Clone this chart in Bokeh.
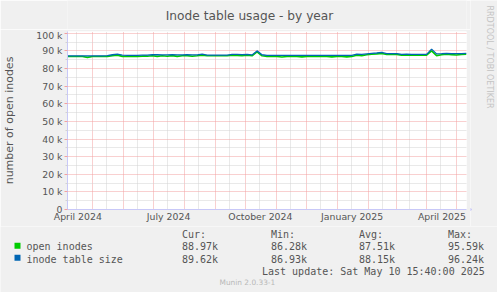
import math
import pandas as pd
from bokeh.plotting import figure
from bokeh.layouts import column, row
from bokeh.models import Label, FixedTicker, Range1d
from bokeh.embed import file_html
from bokeh.resources import INLINE

# ---------------- data ----------------
start = pd.Timestamp("2024-04-05 15:40")
end = pd.Timestamp("2025-05-10 15:40")
sample_dates = pd.date_range(start, end, freq="5D")  # one sample every 5 days

inode_table_size = [
    87.2, 87.2, 87.2, 87.2, 87.2, 87.2, 87.2, 87.2, 87.3, 87.8,
    88.2, 87.6, 87.4, 87.4, 87.4, 87.6, 87.6, 87.8, 87.8, 87.7,
    87.7, 87.8, 87.7, 87.7, 87.8, 87.7, 87.7, 88.2, 87.6, 87.6,
    87.6, 87.6, 87.6, 88.0, 88.0, 87.9, 88.0, 87.7, 90.0, 87.8,
    87.5, 87.4, 87.4, 87.4, 87.4, 87.4, 87.4, 87.4, 87.4, 87.4,
    87.4, 87.4, 87.4, 87.4, 87.4, 87.4, 87.4, 87.4, 88.2, 88.0,
    88.3, 88.6, 88.8, 89.1, 88.5, 88.4, 88.5, 88.0, 88.1, 88.0,
    88.0, 88.0, 88.0, 91.0, 88.3, 88.4, 88.6, 88.5, 88.4, 88.4,
    88.6,
]
open_inodes = [
    86.8, 86.8, 86.8, 86.8, 86.3, 86.8, 86.8, 86.8, 86.9, 87.3,
    87.6, 86.9, 86.8, 86.8, 86.8, 87.0, 87.0, 87.2, 86.9, 87.2,
    87.0, 87.3, 86.9, 87.2, 87.3, 87.0, 87.2, 87.6, 87.2, 87.2,
    87.2, 87.2, 87.2, 87.5, 87.4, 87.3, 87.5, 87.2, 89.5, 87.2,
    86.9, 86.8, 86.8, 86.5, 86.8, 86.8, 86.8, 86.6, 86.8, 86.8,
    86.8, 86.8, 86.8, 86.6, 86.8, 86.8, 86.6, 86.8, 87.5, 87.3,
    87.8, 88.1, 88.3, 88.6, 88.0, 88.0, 88.0, 87.6, 87.7, 87.6,
    87.5, 87.6, 87.6, 90.0, 87.3, 87.8, 88.1, 87.9, 87.7, 88.0,
    88.1,
]

y_ticks = [0, 10000, 20000, 30000, 40000, 50000, 60000, 70000, 80000, 90000, 100000]
y_tick_labels = ["0", "10 k", "20 k", "30 k", "40 k", "50 k", "60 k", "70 k", "80 k", "90 k", "100 k"]
y_minor = [5000, 15000, 25000, 35000, 45000, 55000, 65000, 75000, 85000, 95000]

x_label_months = ["2024-04-01", "2024-07-01", "2024-10-01", "2025-01-01", "2025-04-01"]
x_tick_labels = ["April 2024", "July 2024", "October 2024", "January 2025", "April 2025"]

legend_names = ["open inodes", "inode table size"]
legend_colors = ["#00CC00", "#0066B3"]
cur_vals = ["88.97k", "89.62k"]
min_vals = ["86.28k", "86.93k"]
avg_vals = ["87.51k", "88.15k"]
max_vals = ["95.59k", "96.24k"]
last_update = "Last update: Sat May 10 15:40:00 2025"
title_text = "Inode table usage - by year"
y_label_text = "number of open inodes"
version_text = "Munin 2.0.33-1"
brand_text = "RRDTOOL / TOBI OETIKER"

# ---------------- layout geometry (pixels) ----------------
W, H = 497, 292
MAIN_W = 470          # main figure width
TOP_H = 29            # title band height
MAIN_BOTTOM = 226     # bottom of main figure (page y)
FL, FR, FT, FB = 66, 466, 31, 209   # plot frame in page pixels

BG = "#F0F0F0"
red = "#F2A0A0"
gray = "#D2D2D2"
axc = "#C8C8F8"
txt = "#555555"


def blank(w, h, x0, y0, left=0, right=0):
    """A text-only figure; data units = page pixels inside its frame."""
    f = figure(width=w, height=h, output_backend="svg", toolbar_location=None,
               x_range=Range1d(x0 + left, x0 + w - right), y_range=Range1d(y0 + h, y0),
               min_border=0, min_border_left=left, min_border_right=right,
               min_border_top=0, min_border_bottom=0)
    f.axis.visible = False
    f.grid.visible = False
    f.outline_line_color = None
    f.background_fill_color = BG
    f.border_fill_color = BG
    return f


def lbl(f, x, y, text, size, color=txt, font="DejaVu Sans", align="left",
        baseline="alphabetic", angle=0.0):
    f.add_layout(Label(x=x, y=y, text=text, text_font=font, text_font_size=f"{size}px",
                       text_color=color, text_align=align, text_baseline=baseline,
                       angle=angle))


# ---------------- main chart ----------------
p = figure(width=MAIN_W, height=MAIN_BOTTOM - TOP_H, x_axis_type="datetime",
           output_backend="svg", toolbar_location=None,
           min_border_left=FL, min_border_right=MAIN_W - FR,
           min_border_top=FT - TOP_H, min_border_bottom=MAIN_BOTTOM - FB,
           x_range=Range1d(start, end), y_range=Range1d(0, 101000))
p.border_fill_color = BG
p.background_fill_color = "#FFFFFF"
p.outline_line_color = None


def ms(ts):
    return pd.Timestamp(ts).value / 1e6


month_starts = [ms(t) for t in pd.date_range("2024-05-01", "2025-05-01", freq="MS")]
mid_months = [ms(t + pd.Timedelta(days=14)) for t in pd.date_range("2024-04-01", "2025-04-01", freq="MS")]
label_pos = [ms(pd.Timestamp(m) + pd.Timedelta(days=15)) for m in x_label_months]

p.xgrid.ticker = FixedTicker(ticks=month_starts, minor_ticks=mid_months)
p.xgrid.grid_line_color = red
p.xgrid.grid_line_dash = "1 1"
p.xgrid.minor_grid_line_color = gray
p.xgrid.minor_grid_line_dash = "1 1"

p.ygrid.ticker = FixedTicker(ticks=y_ticks, minor_ticks=y_minor)
p.ygrid.grid_line_color = red
p.ygrid.grid_line_dash = "1 1"
p.ygrid.minor_grid_line_color = gray
p.ygrid.minor_grid_line_dash = "1 1"

xa = p.xaxis[0]
xa.ticker = FixedTicker(ticks=label_pos, minor_ticks=[])
xa.major_label_overrides = {k: v for k, v in zip(label_pos, x_tick_labels)}
xa.major_tick_line_color = None
xa.minor_tick_line_color = None
xa.major_tick_out = 0
xa.major_label_standoff = 1
xa.axis_line_color = axc
xa.major_label_text_font = "DejaVu Sans"
xa.major_label_text_font_size = "9.33px"
xa.major_label_text_color = txt

ya = p.yaxis[0]
ya.ticker = FixedTicker(ticks=y_ticks, minor_ticks=y_minor)
ya.major_label_overrides = {k: v for k, v in zip(y_ticks, y_tick_labels)}
ya.major_tick_line_color = red
ya.major_tick_out = 3
ya.major_tick_in = 0
ya.minor_tick_line_color = gray
ya.minor_tick_out = 2
ya.minor_tick_in = 0
ya.major_label_standoff = 2
ya.axis_line_color = axc
ya.major_label_text_font = "DejaVu Sans"
ya.major_label_text_font_size = "9.33px"
ya.major_label_text_color = txt
ya.axis_label = y_label_text
ya.axis_label_text_font = "DejaVu Sans"
ya.axis_label_text_font_size = "11px"
ya.axis_label_text_font_style = "normal"
ya.axis_label_text_color = txt
ya.axis_label_standoff = 17

open_k = [v * 1000 for v in open_inodes]
size_k = [v * 1000 for v in inode_table_size]
p.line(sample_dates, open_k, line_color=legend_colors[0], line_width=1.6)
p.line(sample_dates, size_k, line_color=legend_colors[1], line_width=1.3)

# ---------------- title band (frame aligned with the chart frame) ----------------
t = blank(MAIN_W, TOP_H, 0, 0, left=FL, right=MAIN_W - FR)
lbl(t, 248.5, 15.3, title_text, 12.2, color="#555555", align="center")

# ---------------- right brand band ----------------
b = blank(W - MAIN_W, MAIN_BOTTOM, MAIN_W, 0)
lbl(b, 488.5, 5, brand_text, 8, color="#C4C4C4", align="left", baseline="middle",
    angle=-math.pi / 2)
b.scatter([FR + 2], [FB], marker="triangle", size=6, angle=-math.pi / 2,
          fill_color=axc, line_color=axc)

# ---------------- legend band ----------------
g = blank(W, H - MAIN_BOTTOM, 0, MAIN_BOTTOM)
mono = "DejaVu Sans Mono"
col_x = [181.5, 270.5, 358.5, 447.5]
for cx, head in zip(col_x, ["Cur:", "Min:", "Avg:", "Max:"]):
    lbl(g, cx, 233.7, head, 10, font=mono)
row_y = [246.4, 258.6]
for i, name in enumerate(legend_names):
    lbl(g, 26, row_y[i], name, 10, font=mono)
    for cx, vals in zip(col_x, [cur_vals, min_vals, avg_vals, max_vals]):
        lbl(g, cx, row_y[i], vals[i], 10, font=mono)
g.quad(left=[14, 14], right=[20, 20], top=[242.3, 254.3], bottom=[248.3, 260.3],
       fill_color=legend_colors, line_color=None)
lbl(g, 261.5, 270.6, last_update, 10, font=mono)
lbl(g, 219, 281.8, version_text, 7.4, color="#B8B8B8")

layout = column(row(column(t, p, spacing=0), b, spacing=0), g, spacing=0)
open("out.html", "w").write(file_html(layout, INLINE))
